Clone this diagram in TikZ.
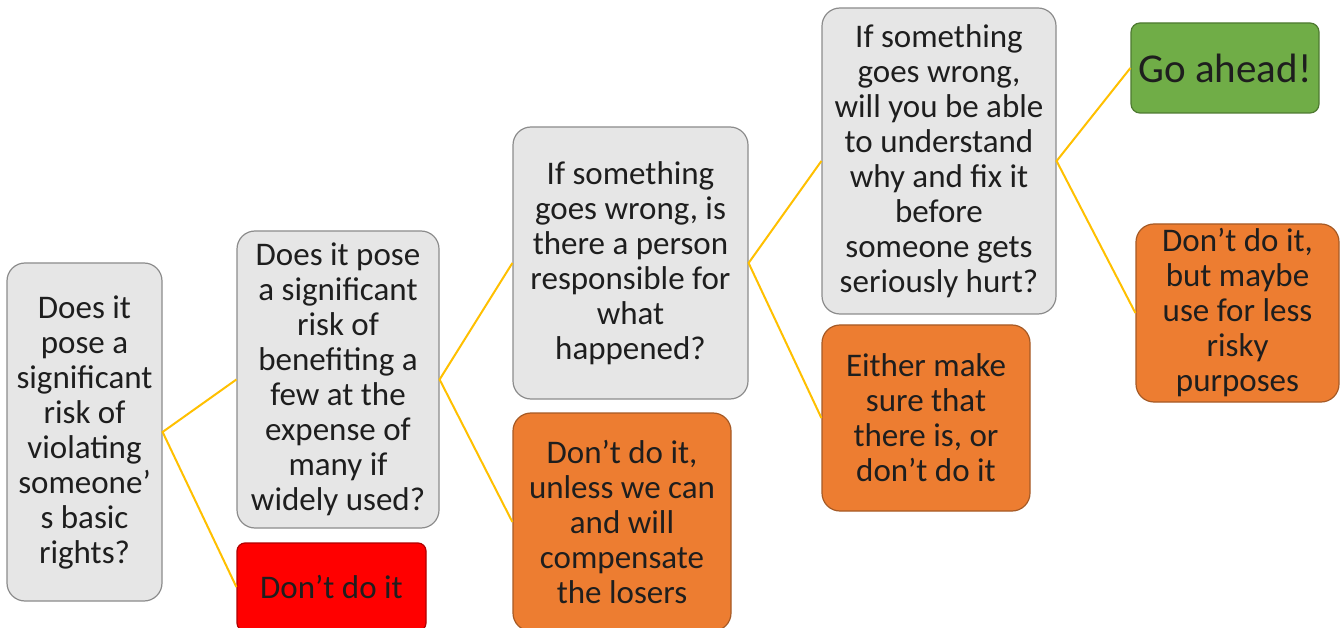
\documentclass[tikz,border=0pt]{standalone}
\usepackage{fontspec}
\setmainfont{Carlito}
\definecolor{greyfill}{HTML}{E6E6E6}
\definecolor{greyline}{HTML}{8C8C8C}
\definecolor{orfill}{HTML}{ED7D31}
\definecolor{orline}{HTML}{A65A25}
\definecolor{redfill}{HTML}{FF0000}
\definecolor{redline}{HTML}{B00000}
\definecolor{grfill}{HTML}{70AD47}
\definecolor{grline}{HTML}{4E7A31}
\definecolor{conn}{HTML}{FFC000}
\definecolor{txt}{HTML}{1E1E1E}
\tikzset{
  box/.style={rectangle, rounded corners=18pt, line width=1.2pt, align=center,
    inner sep=1pt, text=txt, font=\fontsize{33}{35}\selectfont},
  qbox/.style={box, fill=greyfill, draw=greyline},
  obox/.style={box, fill=orfill, draw=orline},
  rbox/.style={box, fill=redfill, draw=redline, rounded corners=8pt},
  gbox/.style={box, fill=grfill, draw=grline, rounded corners=9pt, font=\fontsize{41}{43}\selectfont},
  link/.style={draw=conn, line width=2pt}
}
\begin{document}
\begin{tikzpicture}[x=1pt,y=-1pt]
\useasboundingbox (0,0) rectangle (1344,628);
\clip (0,0) rectangle (1344,628);
\fill[white] (0,0) rectangle (1344,628);
\node[qbox, minimum width=155pt, minimum height=338pt] (A) at (84.5,432)
  {Does it\\pose a\\significant\\risk of\\violating\\someone’\\s basic\\rights?};
\node[qbox, minimum width=202pt, minimum height=297pt] (B) at (338,379.5)
  {Does it pose\\a significant\\risk of\\benefiting a\\few at the\\expense of\\many if\\widely used?};
\node[rbox, minimum width=189pt, minimum height=88pt] (R) at (331.5,587)
  {Don’t do it};
\node[qbox, minimum width=235pt, minimum height=272pt] (C) at (630.5,263)
  {If something\\goes wrong, is\\there a person\\responsible for\\what\\happened?};
\node[obox, minimum width=218pt, minimum height=218pt] (D) at (622,522)
  {Don’t do it,\\unless we can\\and will\\compensate\\the losers};
\node[qbox, minimum width=234pt, minimum height=306pt] (E) at (939,161)
  {If something\\goes wrong,\\will you be able\\to understand\\why and fix it\\before\\someone gets\\seriously hurt?};
\node[obox, minimum width=208pt, minimum height=186pt] (F) at (926,418)
  {Either make\\sure that\\there is, or\\don’t do it};
\node[gbox, minimum width=188pt, minimum height=90pt] (G) at (1225,68)
  {Go ahead!};
\node[obox, minimum width=203pt, minimum height=178pt] (H) at (1237.5,313)
  {Don’t do it,\\but maybe\\use for less\\risky\\purposes};
\draw[link] (B.west) -- (A.east) -- (R.west);
\draw[link] (C.west) -- (B.east) -- (D.west);
\draw[link] (E.west) -- (C.east) -- (F.west);
\draw[link] (G.west) -- (E.east) -- (H.west);
\end{tikzpicture}
\end{document}
